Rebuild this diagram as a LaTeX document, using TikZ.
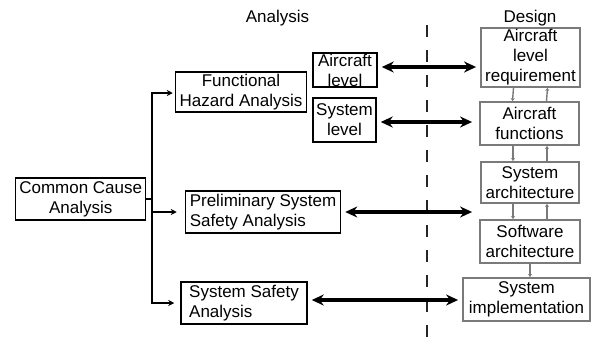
\documentclass[tikz,border=0pt]{standalone}
\usepackage{fontspec}
\setmainfont{Liberation Sans}
\usetikzlibrary{arrows.meta,positioning,calc}
\definecolor{dgray}{HTML}{7A7A7A}
\tikzset{
  >={Stealth[length=6pt,width=6pt]},
  % boxes
  ab/.style={draw=black,line width=1.5pt,fill=white,inner sep=0pt,
             align=center,font=\fontsize{17}{20}\selectfont},
  db/.style={ab,draw=dgray,line width=1.8pt},
  ttl/.style={font=\fontsize{17}{20}\selectfont,inner sep=0pt},
  % links
  br/.style={draw=black,line width=1.3pt},
  dbl/.style={{Stealth[length=12pt,width=11pt]}-{Stealth[length=12pt,width=11pt]},
              draw=black,line width=3.4pt,shorten <=4pt,shorten >=4pt},
  dl/.style={->,draw=dgray,line width=1.4pt,>={Stealth[length=3pt,width=4pt]}},
  sep/.style={draw=black!85,line width=1.3pt,dash pattern=on 12pt off 13pt},
}
\begin{document}
\begin{tikzpicture}[x=1pt,y=-1pt]
\useasboundingbox (0,0) rectangle (592,349);
  % titles
  \node[ttl] (tana) at (277.5,18) {Analysis};
  \node[ttl] (tdes) at (530,18) {Design};
  % analysis side
  \node[ab,minimum width=130,minimum height=42] (cca) at (80.7,199) {Common Cause\\Analysis};
  \node[ab,minimum width=131,minimum height=40] (fha) at (241,92) {Functional\\Hazard Analysis};
  \node[ab,minimum width=64,minimum height=34] (acl) at (345,70) {Aircraft\\level};
  \node[ab,minimum width=63,minimum height=44] (sysl) at (344.5,120) {System\\level};
  \node[ab,minimum width=155,minimum height=42,align=left] (pssa) at (263,212) {Preliminary System\\Safety Analysis};
  \node[ab,minimum width=126,minimum height=42,align=left] (ssa) at (244,303) {System Safety\\Analysis};
  % design side
  \node[db,minimum width=99,minimum height=59] (alr) at (530.5,57.5) {Aircraft\\level\\requirement};
  \node[db,minimum width=99,minimum height=43] (af) at (529.5,123.5) {Aircraft\\functions};
  \node[db,minimum width=98,minimum height=41] (sa) at (530,182.5) {System\\architecture};
  \node[db,minimum width=100,minimum height=43] (swa) at (530,241.5) {Software\\architecture};
  \node[db,minimum width=127,minimum height=43] (si) at (526.5,299.5) {System\\implementation};
  % separator
  \coordinate (st) at (427,25);
  \coordinate (sb) at (427,349);
  \draw[sep] (st) -- (sb);
  % branches from CCA
  \coordinate (jn) at (152,199);
  \draw[br] (cca.east) -- (jn);
  \draw[br,->,shorten >=2pt] (jn) |- ([yshift=-1pt]fha.west);
  \draw[br,->,shorten >=8pt] (jn) |- (pssa.west);
  \draw[br,->,shorten >=6pt] (jn) |- (ssa.west);
  % analysis <-> design
  \draw[dbl] ([yshift=3pt]acl.east) -- ([yshift=3pt]acl.east -| alr.west);
  \draw[dbl,shorten >=7pt] ([yshift=-2pt]sysl.east) -- ([yshift=-2pt]sysl.east -| af.west);
  \draw[dbl,shorten >=8pt] (pssa.east) -- (pssa.east -| sa.west);
  \draw[dbl] ([yshift=3pt]ssa.east) -- ([yshift=3pt]ssa.east -| si.west);
  % design chain
  \draw[dl] ([xshift=-17pt]alr.south) -- ([xshift=-17pt]af.north);
  \draw[dl] ([xshift=17pt]af.north) -- ([xshift=17pt]alr.south);
  \draw[dl] ([xshift=-16.5pt]af.south) -- ([xshift=-17pt]sa.north);
  \draw[dl] ([xshift=17pt]sa.north) -- ([xshift=17.5pt]af.south);
  \draw[dl] ([xshift=-17pt]sa.south) -- ([xshift=-17pt]swa.north);
  \draw[dl] ([xshift=17pt]swa.north) -- ([xshift=17pt]sa.south);
  \draw[dl] (swa.south) -- (swa.south |- si.north);
\end{tikzpicture}
\end{document}
